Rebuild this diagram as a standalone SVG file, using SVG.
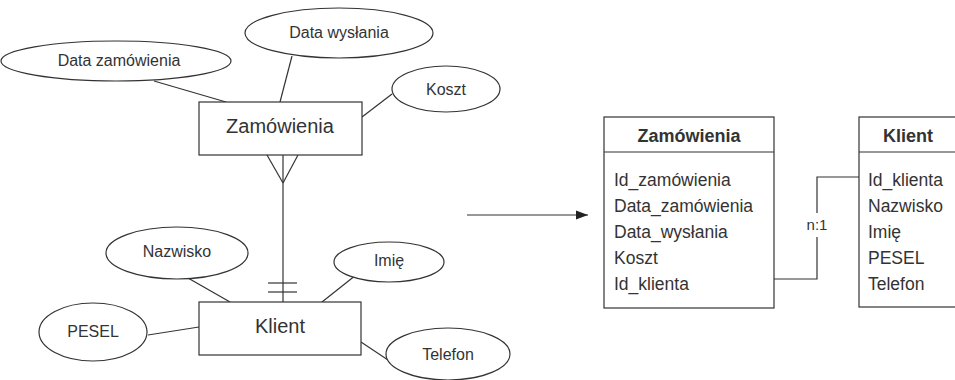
<svg xmlns="http://www.w3.org/2000/svg" width="955" height="380" viewBox="0 0 955 380">
<defs>
<style>
.sh{fill:#fff;stroke:#333;stroke-width:1.2}
.ln{fill:none;stroke:#333;stroke-width:1.2}
text{font-family:"Liberation Sans",Arial,sans-serif;fill:#333}
.at{font-size:16px;text-anchor:middle}
.en{font-size:20px;text-anchor:middle}
.th{font-size:18px;font-weight:bold;text-anchor:middle}
.tr{font-size:17.5px}
</style>
<marker id="arr" viewBox="0 0 12 10" refX="12" refY="5" markerWidth="12" markerHeight="10" markerUnits="userSpaceOnUse" orient="auto"><path d="M0,0.5 L12,5 L0,9.5 z" fill="#222"/></marker>
</defs>
<rect width="955" height="380" fill="#fff"/>
<g id="connectors">
<line class="ln" x1="154" y1="81" x2="226" y2="102"/>
<line class="ln" x1="292" y1="56" x2="280" y2="102"/>
<line class="ln" x1="392" y1="94" x2="362" y2="117"/>
<line class="ln" x1="283" y1="155" x2="283" y2="302"/>
<line class="ln" x1="267" y1="155" x2="283" y2="183"/>
<line class="ln" x1="298" y1="155" x2="283" y2="183"/>
<line class="ln" x1="268" y1="283" x2="297" y2="283"/>
<line class="ln" x1="268" y1="292" x2="297" y2="292"/>
<line class="ln" x1="188" y1="278" x2="230" y2="302"/>
<line class="ln" x1="356" y1="275" x2="322" y2="302"/>
<line class="ln" x1="148" y1="335" x2="199" y2="327"/>
<line class="ln" x1="361" y1="342" x2="388" y2="360"/>
<line class="ln" x1="467" y1="215" x2="588" y2="215" marker-end="url(#arr)"/>
<polyline class="ln" points="774,279 817,279 817,237"/>
<polyline class="ln" points="817,213 817,177 859,177"/>
<text x="817" y="230" font-size="15" text-anchor="middle">n:1</text>
</g>
<g id="attr-data-zamowienia"><ellipse class="sh" cx="116" cy="61" rx="115" ry="20"/><text class="at" x="119" y="66">Data zamówienia</text></g>
<g id="attr-data-wyslania"><ellipse class="sh" cx="339" cy="33" rx="94" ry="25"/><text class="at" x="339" y="38">Data wysłania</text></g>
<g id="attr-koszt"><ellipse class="sh" cx="446" cy="89" rx="54" ry="23"/><text class="at" x="446" y="95">Koszt</text></g>
<g id="ent-zamowienia"><rect class="sh" x="199" y="102" width="163" height="53"/><text class="en" x="280" y="133">Zamówienia</text></g>
<g id="ent-klient"><rect class="sh" x="199" y="302" width="162" height="53"/><text class="en" x="280" y="333">Klient</text></g>
<g id="attr-nazwisko"><ellipse class="sh" cx="177" cy="253" rx="71" ry="26"/><text class="at" x="177" y="257">Nazwisko</text></g>
<g id="attr-imie"><ellipse class="sh" cx="389" cy="262" rx="55" ry="20"/><text class="at" x="389" y="266">Imię</text></g>
<g id="attr-pesel"><ellipse class="sh" cx="93" cy="332" rx="54" ry="29"/><text class="at" x="93" y="337">PESEL</text></g>
<g id="attr-telefon"><ellipse class="sh" cx="448" cy="354" rx="62" ry="26"/><text class="at" x="448" y="360">Telefon</text></g>
<g id="tbl-zamowienia">
<rect class="sh" x="604" y="117" width="170" height="191"/>
<line class="ln" x1="604" y1="152" x2="774" y2="152"/>
<text class="th" x="689" y="142">Zamówienia</text>
<text class="tr" x="614" y="186">Id_zamówienia</text>
<text class="tr" x="614" y="212">Data_zamówienia</text>
<text class="tr" x="614" y="238">Data_wysłania</text>
<text class="tr" x="614" y="264">Koszt</text>
<text class="tr" x="614" y="290">Id_klienta</text>
</g>
<g id="tbl-klient">
<rect class="sh" x="859" y="117" width="110" height="190"/>
<line class="ln" x1="859" y1="152" x2="969" y2="152"/>
<text class="th" x="908" y="142">Klient</text>
<text class="tr" x="868" y="186">Id_klienta</text>
<text class="tr" x="868" y="212">Nazwisko</text>
<text class="tr" x="868" y="238">Imię</text>
<text class="tr" x="868" y="264">PESEL</text>
<text class="tr" x="868" y="290">Telefon</text>
</g>
</svg>
